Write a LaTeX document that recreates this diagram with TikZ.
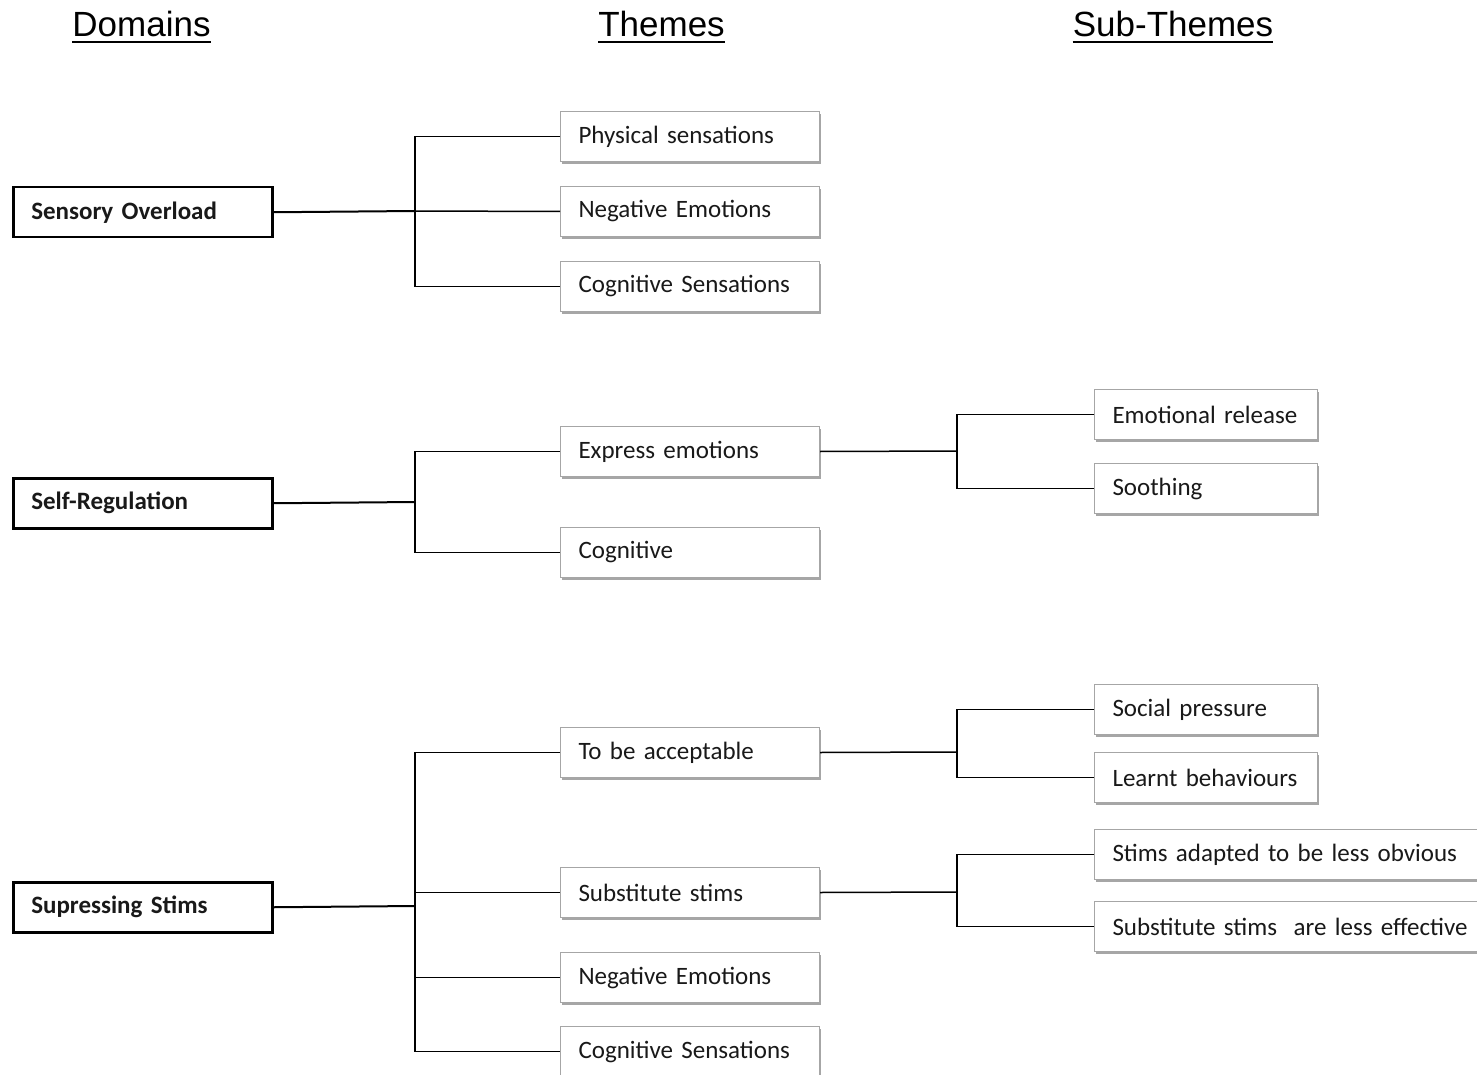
\documentclass[tikz,border=0pt]{standalone}
\usepackage{fontspec}
\setmainfont{Carlito}
\newfontfamily\hdrfont{Liberation Sans}
\usetikzlibrary{shadows}
\begin{document}
\begin{tikzpicture}[x=1pt,y=-1pt,
  boxtext/.style={font=\fontsize{25}{30}\selectfont, text=black!90},
  domainbox/.style={boxtext, draw=black, line width=2.5pt, fill=white, anchor=north west,
    minimum height=50pt, text width=223pt, inner xsep=18pt, inner ysep=0pt, align=left,
    font=\fontsize{25}{30}\selectfont\bfseries},
  themebox/.style={boxtext, draw=black!35, line width=1pt, fill=white, anchor=north west,
    minimum height=50pt, text width=223pt, inner xsep=18pt, inner ysep=0pt, align=left,
    drop shadow={shadow xshift=1.5pt, shadow yshift=-2.5pt, fill=black, opacity=0.35}},
  subbox/.style={themebox, text width=187pt},
  widebox/.style={themebox, text width=400pt},
  hdr/.style={font=\hdrfont\fontsize{35}{40}\selectfont, inner sep=0pt, anchor=base},
  uline/.style={line width=2.5pt},
  dconn/.style={line width=2pt},
  conn/.style={line width=1.5pt}
]
\clip (0,0) rectangle (1477,1075);
\fill[white] (0,0) rectangle (1477,1075);

% headers
\node[hdr] (h1) at (141.5,37) {Domains};
\node[hdr] (h2) at (661.5,37) {Themes};
\node[hdr] (h3) at (1173,37) {Sub-Themes};
\foreach \h in {h1,h2,h3}
  \draw[uline] ([yshift=-5pt]\h.base west) -- ([yshift=-5pt]\h.base east);

% domains
\node[domainbox] (d1) at (12,186) {Sensory Overload};
\node[domainbox] (d2) at (12,477) {Self-Regulation};
\node[domainbox] (d3) at (12,881) {Supressing Stims};

% themes
\node[themebox] (t1) at (560,111) {Physical sensations};
\node[themebox] (t2) at (560,186) {Negative Emotions};
\node[themebox] (t3) at (560,261) {Cognitive Sensations};
\node[themebox] (t4) at (560,426) {Express emotions};
\node[themebox] (t5) at (560,527) {Cognitive};
\node[themebox] (t6) at (560,727) {To be acceptable};
\node[themebox] (t7) at (560,867) {Substitute stims};
\node[themebox] (t8) at (560,952) {Negative Emotions};
\node[themebox] (t9) at (560,1026) {Cognitive Sensations};

% sub-themes
\node[subbox] (s1) at (1094,389) {Emotional release};
\node[subbox] (s2) at (1094,463) {Soothing};
\node[subbox] (s3) at (1094,684) {Social pressure};
\node[subbox] (s4) at (1094,752) {Learnt behaviours};
\node[widebox] (s5) at (1094,829) {Stims adapted to be less obvious};
\node[widebox] (s6) at (1094,901) {Substitute stims\ \ are less effective};

% branch points
\coordinate (b1) at (415,211);
\coordinate (b2) at (415,502);
\coordinate (b3) at (415,906);
\coordinate (c1) at (957,451);
\coordinate (c2) at (957,752);
\coordinate (c3) at (957,892);

% domain connectors
\draw[dconn] (d1.east) -- (b1);
\draw[dconn] (d2.east) -- (b2);
\draw[dconn] (d3.east) -- (b3);

% theme connectors
\draw[conn] (t1.west) -| (b1) |- (t3.west);
\draw[conn] (b1) -- (t2.west);
\draw[conn] (t4.west) -| (b2) |- (t5.west);
\draw[conn] (t6.west) -| (b3) |- (t9.west);
\draw[conn] (b3 |- t7.west) -- (t7.west);
\draw[conn] (b3 |- t8.west) -- (t8.west);

% sub-theme connectors
\draw[conn] (t4.east) -- (c1);
\draw[conn] (s1.west) -| (c1) |- (s2.west);
\draw[conn] (t6.east) -- (c2);
\draw[conn] (s3.west) -| (c2) |- (s4.west);
\draw[conn] (t7.east) -- (c3);
\draw[conn] (s5.west) -| (c3) |- (s6.west);
\end{tikzpicture}
\end{document}
